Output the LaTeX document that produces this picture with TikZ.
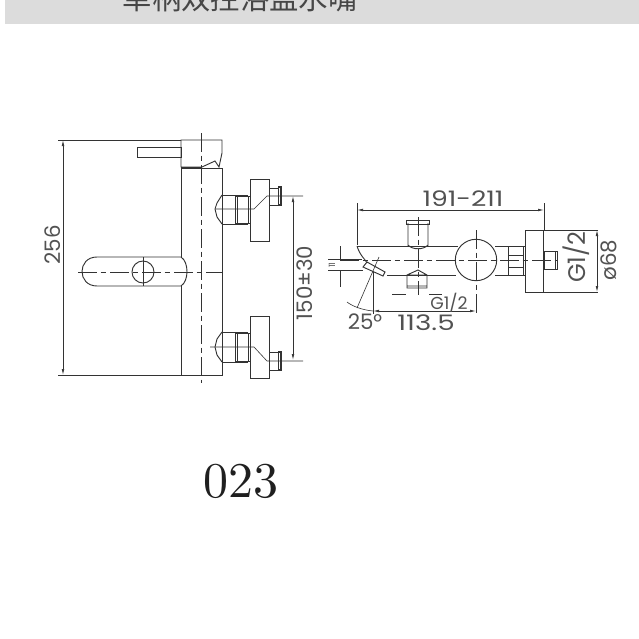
\documentclass[tikz,border=0pt]{standalone}
\usepackage{fontspec}
\setmainfont{Poppins}
\newfontfamily\cjk{Noto Sans CJK SC}
\usetikzlibrary{positioning,calc,arrows.meta}
\definecolor{ink}{HTML}{333333}
\definecolor{band}{HTML}{DCDCDC}

\begin{document}
\begin{tikzpicture}[x=0.75pt,y=-0.75pt,
				part/.style={draw=ink,line width=0.7pt},
				thin part/.style={draw=ink,line width=0.45pt},
				axis/.style={draw=ink,line width=0.6pt,dash pattern=on 14pt off 3pt on 4pt off 3pt},
				dim/.style={draw=ink,line width=0.5pt,{Latex[length=4.5pt,width=2pt]}-{Latex[length=4.5pt,width=2pt]}},
				dimtext/.style={text=ink!85,font=\fontsize{16}{16}\selectfont,inner sep=0pt,outer sep=0pt},
				every node/.style={inner sep=0pt}]
				\useasboundingbox (0,0) rectangle (639,639);
				% title band
				\fill[band] (5,0) rectangle (639,24);
				\begin{scope}
					\clip (5,0) rectangle (639,24);
					\node (TITLE) [text=ink!90,font=\cjk\fontsize{22}{22}\selectfont,anchor=base] at (240,9) {单柄双控浴盆水嘴};
				\end{scope}

				% front view
				\draw[part] (181,140) -- (222,140) -- (222,153) -- (219,167) -- (215,161) -- (202,167) -- (181,167) -- cycle;
				\draw[part,line width=1.1pt] (181,168) -- (202,168);
				\draw[part] (137,147) rectangle (181,157);
				\draw[part] (181,168) -- (181,257) (181,286) -- (181,375) -- (222,375) -- (222,168) -- (202,168);
				\draw[part] (181,257) -- (97,257) .. controls (77,257) and (77,286) .. (97,286) -- (181,286) .. controls (189,281) and (189,262) .. (181,257);
				\draw[part] (143,272) circle (11);
				\draw[thin part] (143,257) -- (143,286);
				\draw[axis] (201,133) -- (201,383);
				\draw[axis] (78,272) -- (223,272);

				% upper valve
				\draw[part] (222,195) -- (217,203) -- (215,209) -- (217,217) -- (222,224);
				\draw[part] (222,195) -- (248,195) (222,224) -- (248,224);
				\draw[part] (235,196) rectangle (248,223) (237,196) -- (237,223) (250,196) -- (248,196) (250,223) -- (248,223);
				\draw[part] (250,179) rectangle (269,241);
				\draw[part] (269,188) rectangle (278,205);
				\draw[part,line width=1.1pt] (278,187) -- (281,187) -- (281,205) -- (278,205);
				\draw[thin part] (215,209) -- (254,209) -- (267,196) -- (303,196);

				% lower valve
				\draw[part] (222,332) -- (217,339) -- (215,347) -- (217,355) -- (222,362);
				\draw[part] (222,332) -- (248,332) (222,362) -- (248,362);
				\draw[part] (235,333) rectangle (248,361) (237,333) -- (237,361) (250,333) -- (248,333) (250,361) -- (248,361);
				\draw[part] (250,316) rectangle (269,378);
				\draw[part] (269,352) rectangle (278,370);
				\draw[part,line width=1.1pt] (278,352) -- (281,352) -- (281,370) -- (278,370);
				\draw[thin part] (210,347) -- (254,347) -- (267,361) -- (303,361);

				% front view dimensions
				\coordinate (TOP) at (63,140);
				\coordinate (BOTTOM) at (63,375);
				\coordinate (VUP) at (293,196);
				\coordinate (VLOW) at (293,360);
				\draw[thin part] (58,140) -- (181,140) (58,375) -- (181,375);
				\draw[dim] (TOP) -- (BOTTOM);
				\draw[dim] (VUP) -- (VLOW);
				\node (H) [dimtext,rotate=90] at (53,245) {256};
				\node (V) [dimtext,rotate=90] at (305,283) {150±30};

				% side view
				\draw[part] (476,260) circle (20.7);
				\draw[part] (357,246) -- (458,246) (387,275) -- (456,275);
				\draw[part] (357,246) .. controls (360,256) and (366,260) .. (367,263);
				\draw[part] (363,267) -- (367,262) -- (385,272) -- (383,276) -- cycle;
				\draw[part] (408,223) -- (408,246) (428,223) -- (428,246) (408,245) .. controls (412,250) and (424,250) .. (428,245);
				\draw[part] (406,220) rectangle (429,224);
				\draw[part] (407,275) -- (418,270) -- (427,275) (407,275) rectangle (427,288) (407,286) -- (427,286);
				\draw[part] (495,246) -- (525,246) (495,275) -- (525,275);
				\draw[part] (508,246) rectangle (523,275) (508,255) -- (523,255) (508,267) -- (523,267);
				\draw[part] (525,230) rectangle (543,292);
				\draw[part] (544,251) rectangle (555,269);
				\draw[part] (555,251) -- (557,251) -- (557,269) -- (555,269);
				\draw[axis] (340,260) -- (557,260);
				\draw[axis] (476,230) -- (476,313);
				\draw[axis] (418,217) -- (418,295);

				% side view dimensions
				\coordinate (SL) at (357,210);
				\coordinate (SR) at (544,210);
				\coordinate (FUP) at (597,230);
				\coordinate (FLOW) at (597,292);
				\coordinate (RL) at (373,311);
				\coordinate (RR) at (476,311);
				\draw[thin part] (357,203) -- (357,245) (544,203) -- (544,230);
				\draw[dim] (SL) -- (SR);
				\draw[thin part] (543,230) -- (598,230) (543,292) -- (598,292);
				\draw[dim] (FUP) -- (FLOW);
				\draw[dim] (RL) -- (RR);
				\draw[thin part] (373,272) -- (373,314);
				\draw[thin part] (379,257) -- (357,308);
				\draw[thin part] (347,302) .. controls (352,306) and (362,310) .. (373,311);
				\draw[thin part] (328,259) -- (362,259) (328,270) -- (363,270);
				\draw[thin part] (340,246) -- (340,259) (340,270) -- (340,287);
				\draw[thin part] (392,294) -- (406,294) (429,294) -- (442,294);
				\node (TOTAL) [dimtext,xscale=1.25] at (463,199) {191-211};
				\node (REACH) [dimtext,xscale=1.3] at (426,323) {113.5};
				\node (ANGLE) [dimtext] at (365,322) {25°};
				\node (GLOW) [dimtext,font=\fontsize{13}{13}\selectfont] at (449,303) {G1/2};
				\node (GSIDE) [dimtext,rotate=90,font=\fontsize{18}{18}\selectfont] at (576,257) {G1/2};
				\node (DIA) [dimtext,rotate=90] at (609,260) {ø68};
				\node (GAP) [dimtext,rotate=90,font=\fontsize{6.5}{6.5}\selectfont] at (332,265) {11};

				% model number
				\node (MODEL) [font=\fontfamily{lmr}\fontencoding{TU}\fontsize{10}{10}\selectfont,scale=3.75,text=ink!60!black] at (241,481) {023};
			\end{tikzpicture}
\end{document}
